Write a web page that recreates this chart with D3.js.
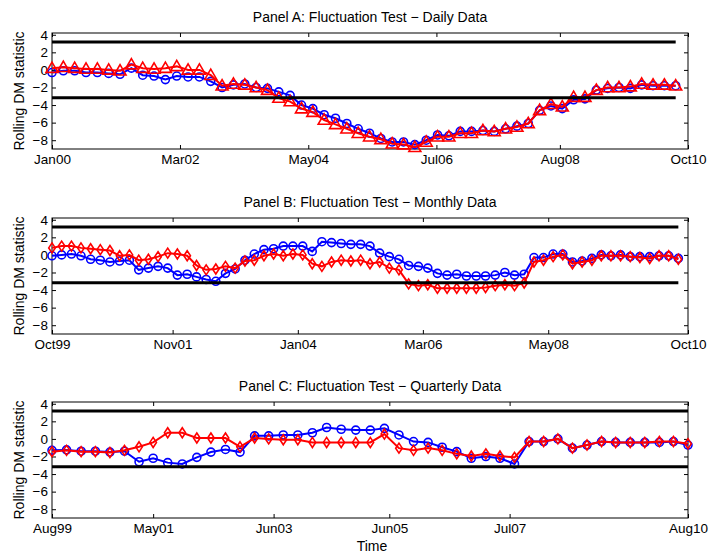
<!DOCTYPE html>
<html>
<head>
<meta charset="utf-8">
<script src="https://cdn.jsdelivr.net/npm/d3@7"></script>
<style>
  body { margin: 0; background: #fff; }
  text { font-family: "Liberation Sans", Arial, Helvetica, sans-serif; fill: #000; }
</style>
</head>
<body>
<div id="chart"></div>
<script>
  // tick labels double as the x domain ends (first / last)
  let tickLabelsA = ['Jan00', 'Mar02', 'May04', 'Jul06', 'Aug08', 'Oct10'];
  let tickLabelsB = ['Oct99', 'Nov01', 'Jan04', 'Mar06', 'May08', 'Oct10'];
  let tickLabelsC = ['Aug99', 'May01', 'Jun03', 'Jun05', 'Jul07', 'Aug10'];
  let yTicks = [4, 2, 0, -2, -4, -6, -8];
  let criticalValue = 3.176;

  let titles = [
    'Panel A: Fluctuation Test \u2212 Daily Data',
    'Panel B: Fluctuation Test \u2212 Monthly Data',
    'Panel C: Fluctuation Test \u2212 Quarterly Data'
  ];

  // panel A, daily data (markers shown every ~70 days from Jan00)
  let blueA = [-0.3, -0.1, -0.1, -0.3, -0.3, -0.4, -0.5, 0.2, -0.6, -0.7,
    -1.1, -0.7, -0.8, -0.8, -1.3, -2.0, -1.7, -1.6, -2.0, -2.1,
    -2.5, -2.9, -4.0, -4.4, -5.1, -5.5, -6.1, -6.7, -7.2, -7.8,
    -8.2, -8.2, -8.5, -8.0, -7.4, -7.5, -7.0, -7.0, -6.9, -7.0,
    -6.7, -6.4, -6.1, -4.6, -4.1, -4.4, -3.4, -3.3, -2.3, -2.1,
    -2.0, -2.1, -1.7, -1.8, -1.8, -1.8];
  let redA = [0.2, 0.3, 0.2, 0.1, 0.1, 0.0, -0.1, 0.6, 0.2, 0.1,
    0.2, 0.4, 0.0, 0.0, -0.6, -1.8, -1.6, -1.7, -2.0, -2.3,
    -3.2, -3.6, -4.4, -4.8, -5.7, -6.2, -6.7, -7.2, -7.6, -7.9,
    -8.4, -8.5, -8.8, -8.2, -7.6, -7.6, -7.2, -7.2, -6.9, -7.0,
    -6.7, -6.5, -6.1, -4.6, -3.9, -4.2, -3.1, -3.1, -2.3, -2.0,
    -2.0, -1.9, -1.6, -1.7, -1.7, -1.8];

  // panel B, monthly data (every 2nd month from Oct99)
  let blueB = [-0.1, 0.0, 0.1, -0.1, -0.5, -0.6, -0.8, -0.7, -0.6, -1.7,
    -1.5, -1.3, -1.5, -2.3, -2.2, -2.5, -2.8, -3.0, -2.1, -1.6,
    -0.6, 0.1, 0.6, 0.7, 1.0, 1.0, 1.0, 0.4, 1.5, 1.4,
    1.3, 1.2, 1.2, 1.0, 0.2, -0.2, -0.5, -1.2, -1.3, -1.5,
    -2.1, -2.3, -2.2, -2.4, -2.4, -2.4, -2.3, -2.0, -2.3, -2.2,
    -0.3, -0.3, 0.1, 0.1, -0.8, -0.7, -0.4, 0.0, -0.1, 0.0,
    -0.2, -0.2, -0.2, -0.1, -0.1, -0.4];
  let redB = [0.8, 1.0, 1.0, 0.8, 0.7, 0.6, 0.5, -0.1, 0.0, -0.6,
    -0.5, -0.2, 0.2, 0.1, -0.1, -1.2, -1.7, -1.6, -1.3, -1.5,
    -0.7, -0.6, -0.1, 0.1, -0.1, 0.1, 0.0, -1.0, -1.3, -0.8,
    -0.6, -0.7, -0.6, -1.0, -0.8, -1.5, -1.7, -3.3, -3.5, -3.4,
    -3.8, -3.8, -3.8, -3.8, -3.8, -3.7, -3.5, -3.4, -3.5, -3.2,
    -0.8, -0.6, -0.2, 0.0, -1.0, -0.8, -0.6, -0.1, -0.1, -0.1,
    -0.2, -0.3, -0.4, -0.1, -0.1, -0.5];

  // panel C, quarterly data from Aug99
  let blueC = [-1.3, -1.25, -1.4, -1.4, -1.5, -1.4, -2.6, -2.2, -2.7, -2.85,
    -2.1, -1.5, -1.2, -1.5, 0.35, 0.35, 0.45, 0.45, 0.7, 1.3,
    1.1, 1.0, 1.0, 1.2, 0.45, -0.3, -0.4, -0.95, -1.45, -2.2,
    -2.0, -2.2, -2.85, -0.3, -0.3, 0.0, -1.05, -0.7, -0.3, -0.4,
    -0.4, -0.4, -0.4, -0.3, -0.7];
  let redC = [-1.45, -1.3, -1.45, -1.45, -1.55, -1.3, -0.9, -0.4, 0.7, 0.7,
    0.1, 0.1, 0.1, -0.9, 0.1, 0.0, -0.1, -0.1, -0.4, -0.4,
    -0.4, -0.4, -0.4, 0.55, -1.05, -1.3, -1.05, -1.3, -1.7, -1.95,
    -1.7, -1.95, -2.1, -0.3, -0.3, 0.0, -1.05, -0.7, -0.3, -0.4,
    -0.4, -0.4, -0.3, -0.3, -0.55];

  let width = 710;
  let height = 555;
  let left = 52;
  let right = 688;
  let panelTops = [33, 218, 402];
  let panelHeight = 116;

  let parseTick = d3.timeParse('%b%y');

  // date of the i-th marker of each panel
  let stepA = (i) => d3.timeDay.offset(parseTick('Jan00'), i * 70);
  let stepB = (i) => d3.timeMonth.offset(parseTick('Oct99'), i * 2);
  let stepC = (i) => d3.timeMonth.offset(parseTick('Aug99'), i * 3);

  let panels = [
    {ticks: tickLabelsA, blue: blueA, red: redA, step: stepA, redMarker: 'triangle'},
    {ticks: tickLabelsB, blue: blueB, red: redB, step: stepB, redMarker: 'diamond'},
    {ticks: tickLabelsC, blue: blueC, red: redC, step: stepC, redMarker: 'diamond'}
  ];

  let svg = d3.select('#chart')
  .append('svg')
  .attr('width', width)
  .attr('height', height);

  svg.append('rect')
  .attr('width', width)
  .attr('height', height)
  .attr('fill', '#fff');

  let triangle = d3.symbol().type(d3.symbolTriangle).size(62);
  let diamondPath = 'M0,-5L3.3,0L0,5L-3.3,0Z';

  panels.forEach((p, k) => {
    let top = panelTops[k];
    let tickDates = p.ticks.map(parseTick);

    let x = d3.scaleTime()
    .domain([tickDates[0], tickDates[tickDates.length - 1]])
    .range([left, right]);

    let y = d3.scaleLinear()
    .domain([-9, 4.2])
    .range([top + panelHeight, top]);

    let blue = p.blue.map((v, i) => ({date: p.step(i), value: v}));
    let red = p.red.map((v, i) => ({date: p.step(i), value: v}));

    let g = svg.append('g');

    //axes with inward ticks, mirrored on top and right
    g.append('g')
    .attr('transform', `translate(${left},0)`)
    .call(d3.axisLeft(y).tickValues(yTicks).tickSizeInner(-4).tickSizeOuter(0).tickPadding(4)
      .tickFormat((d) => d < 0 ? '\u2212' + Math.abs(d) : d))
    .call((a) => a.select('.domain').remove())
    .selectAll('text').style('font-size', '13.5px');

    g.append('g')
    .attr('transform', `translate(${right},0)`)
    .call(d3.axisRight(y).tickValues(yTicks).tickSizeInner(-4).tickSizeOuter(0).tickFormat(''))
    .call((a) => a.select('.domain').remove());

    g.append('g')
    .attr('transform', `translate(0,${top + panelHeight})`)
    .call(d3.axisBottom(x).tickValues(tickDates).tickSizeInner(-4).tickSizeOuter(0).tickPadding(5)
      .tickFormat(d3.timeFormat('%b%y')))
    .call((a) => a.select('.domain').remove())
    .selectAll('text').style('font-size', '13.5px');

    g.append('g')
    .attr('transform', `translate(0,${top})`)
    .call(d3.axisTop(x).tickValues(tickDates).tickSizeInner(-4).tickSizeOuter(0).tickFormat(''))
    .call((a) => a.select('.domain').remove());

    g.append('rect')
    .attr('x', left)
    .attr('y', top)
    .attr('width', right - left)
    .attr('height', panelHeight)
    .attr('fill', 'none')
    .attr('stroke', '#000')
    .attr('stroke-width', 1);

    let line = d3.line()
    .x((d) => x(d.date))
    .y((d) => y(d.value));

    //blue series with circles
    g.append('path')
    .datum(blue)
    .attr('d', line)
    .attr('fill', 'none')
    .attr('stroke', '#0000ff')
    .attr('stroke-width', 2);

    g.selectAll('.blue-mark')
    .data(blue)
    .enter().append('circle')
    .attr('class', 'blue-mark')
    .attr('cx', (d) => x(d.date))
    .attr('cy', (d) => y(d.value))
    .attr('r', 4)
    .attr('fill', 'none')
    .attr('stroke', '#0000ff')
    .attr('stroke-width', 1.6);

    //red series on top
    g.append('path')
    .datum(red)
    .attr('d', line)
    .attr('fill', 'none')
    .attr('stroke', '#ff0000')
    .attr('stroke-width', 2);

    g.selectAll('.red-mark')
    .data(red)
    .enter().append('path')
    .attr('class', 'red-mark')
    .attr('transform', (d) => `translate(${x(d.date)},${y(d.value) + (p.redMarker === 'triangle' ? 0.8 : 0)})`)
    .attr('d', p.redMarker === 'triangle' ? triangle() : diamondPath)
    .attr('fill', 'none')
    .attr('stroke', '#ff0000')
    .attr('stroke-width', 1.6);

    //critical value bands over the sample span
    [criticalValue, -criticalValue].forEach((c) => {
      g.append('line')
      .attr('x1', x(blue[0].date))
      .attr('x2', x(blue[blue.length - 1].date))
      .attr('y1', y(c))
      .attr('y2', y(c))
      .attr('stroke', '#000')
      .attr('stroke-width', 3);
    });

    g.append('text')
    .attr('x', (left + right) / 2)
    .attr('y', top - 11)
    .attr('text-anchor', 'middle')
    .style('font-size', '14px')
    .text(titles[k]);

    g.append('text')
    .attr('transform', `translate(24,${top + panelHeight / 2}) rotate(-90)`)
    .attr('text-anchor', 'middle')
    .style('font-size', '14px')
    .text('Rolling DM statistic');
  });

  svg.append('text')
  .attr('x', (left + right) / 2 + 2)
  .attr('y', 551)
  .attr('text-anchor', 'middle')
  .style('font-size', '14px')
  .text('Time');
</script>
</body>
</html>
